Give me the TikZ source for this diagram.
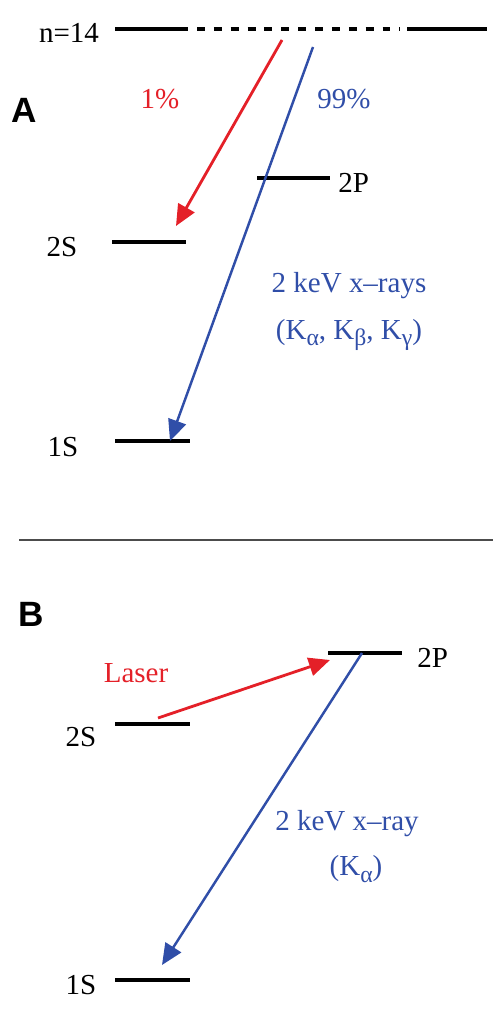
\documentclass[tikz,border=0pt]{standalone}
\usepackage{fontspec}
\setmainfont{Liberation Serif}
\newfontfamily\panelfont{Liberation Sans}
\usepackage{xcolor}
\usepackage{tikz}
\usetikzlibrary{arrows.meta,positioning,calc}

\definecolor{laserred}{RGB}{228,32,40}
\definecolor{xrayblue}{RGB}{48,78,168}
\newcommand{\ksub}[1]{K\raisebox{-0.5ex}{\fontsize{13.5}{14}\selectfont #1}}

\begin{document}
\begin{tikzpicture}[
    x=0.02cm, y=-0.02cm,
    level/.style={draw=black, line width=2pt},
    lbl/.style={inner sep=0pt, font=\fontsize{16.5}{19}\selectfont},
    redlbl/.style={lbl, text=laserred},
    bluelbl/.style={lbl, text=xrayblue, align=center},
    panel/.style={inner sep=0pt, font=\panelfont\bfseries\fontsize{20}{22}\selectfont},
    redarrow/.style={-{Triangle[length=12pt,width=10.5pt]}, line width=1.6pt, draw=laserred},
    bluearrow/.style={-{Triangle[length=12pt,width=10.5pt]}, line width=1.4pt, draw=xrayblue}
]
    \useasboundingbox (0,0) rectangle (493,1034);

    % panel A
    \node [panel] (pA) at (24,110) {A};
    \node [lbl] (n14) at (69,33) {n=14};
    \coordinate (top1) at (115,29);
    \coordinate (top2) at (188,29);
    \coordinate (top3) at (197,29);
    \coordinate (top4) at (400,29);
    \coordinate (top5) at (407,29);
    \coordinate (top6) at (487,29);
    \draw [level] (top1) -- (top2);
    \draw [level, dash pattern=on 4.5pt off 5.1pt] (top3) -- (top4);
    \draw [level] (top5) -- (top6);

    \coordinate (pA2l) at (257,178);
    \coordinate (pA2r) at (330,178);
    \draw [level] (pA2l) -- (pA2r);
    \node [lbl, anchor=west] (pA2t) at (338,183) {2P};

    \coordinate (sA2l) at (112,242);
    \coordinate (sA2r) at (186,242);
    \draw [level] (sA2l) -- (sA2r);
    \node [lbl] (sA2t) at (62,247) {2S};

    \coordinate (sA1l) at (115,441);
    \coordinate (sA1r) at (190,441);
    \draw [level] (sA1l) -- (sA1r);
    \node [lbl] (sA1t) at (63,447) {1S};

    \node [redlbl] (oneA) at (160,99) {1\%};
    \node [bluelbl] (ninetyA) at (344,99) {99\%};
    \node [bluelbl] (xrayA) at (349,286) {2 keV x–rays};
    \node [bluelbl] (kA) at (349,335) {(\ksub{α}, \ksub{β}, \ksub{γ})};

    \coordinate (redA0) at (282,40);
    \coordinate (redA1) at (176,226);
    \coordinate (blueA0) at (313,47);
    \coordinate (blueA1) at (170,441);
    \draw [redarrow] (redA0) -- (redA1);
    \draw [bluearrow] (blueA0) -- (blueA1);

    \coordinate (sep0) at (19,540);
    \coordinate (sep1) at (493,540);
    \draw [draw=black!70, line width=0.9pt] (sep0) -- (sep1);

    % panel B
    \node [panel] (pB) at (31,614) {B};

    \coordinate (pB2l) at (328,653);
    \coordinate (pB2r) at (402,653);
    \draw [level] (pB2l) -- (pB2r);
    \node [lbl, anchor=west] (pB2t) at (417,658) {2P};

    \coordinate (sB2l) at (115,724);
    \coordinate (sB2r) at (190,724);
    \draw [level] (sB2l) -- (sB2r);
    \node [lbl] (sB2t) at (81,737) {2S};

    \coordinate (sB1l) at (115,980);
    \coordinate (sB1r) at (190,980);
    \draw [level] (sB1l) -- (sB1r);
    \node [lbl] (sB1t) at (81,985) {1S};

    \node [redlbl] (laser) at (136,673) {Laser};
    \node [bluelbl] (xrayB) at (347,824) {2 keV x–ray};
    \node [bluelbl] (kB) at (356,869) {(\ksub{α})};

    \coordinate (redB0) at (158,718);
    \coordinate (redB1) at (330,660);
    \coordinate (blueB0) at (362,653);
    \coordinate (blueB1) at (162,965);
    \draw [redarrow] (redB0) -- (redB1);
    \draw [bluearrow] (blueB0) -- (blueB1);
\end{tikzpicture}
\end{document}
